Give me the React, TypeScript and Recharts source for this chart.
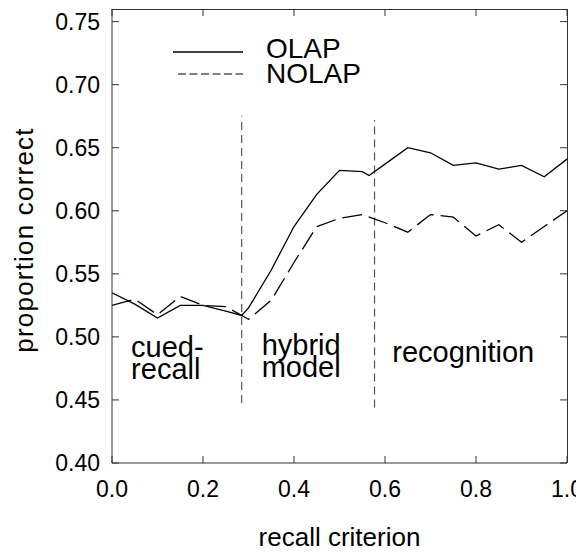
import React from 'react';
import { LineChart, Line, XAxis, YAxis, ReferenceLine, ReferenceDot, Legend } from 'recharts';

// ---- data ----
const xTicks = [0, 0.2, 0.4, 0.6, 0.8, 1.0];
const yTicks = [0.4, 0.45, 0.5, 0.55, 0.6, 0.65, 0.7, 0.75];
const xMin = 0;
const xMax = 1.0;
const yMin = 0.4;
const yMax = 0.76;

const olapX = [0, 0.05, 0.1, 0.15, 0.2, 0.25, 0.285, 0.3, 0.35, 0.4, 0.45, 0.5, 0.55, 0.565, 0.6, 0.65, 0.7, 0.75, 0.8, 0.85, 0.9, 0.95, 1.0];
const olapY = [0.535, 0.526, 0.515, 0.525, 0.525, 0.5205, 0.517, 0.523, 0.553, 0.5875, 0.613, 0.632, 0.631, 0.628, 0.637, 0.65, 0.646, 0.636, 0.638, 0.633, 0.636, 0.627, 0.641];

const nolapX = [0, 0.05, 0.1, 0.15, 0.2, 0.25, 0.3, 0.35, 0.4, 0.45, 0.5, 0.55, 0.6, 0.65, 0.7, 0.75, 0.8, 0.85, 0.9, 0.95, 1.0];
const nolapY = [0.525, 0.530, 0.5175, 0.532, 0.525, 0.524, 0.514, 0.529, 0.559, 0.5875, 0.594, 0.597, 0.5905, 0.583, 0.597, 0.595, 0.580, 0.589, 0.575, 0.5875, 0.600];

const seriesNames = ['OLAP', 'NOLAP'];

const boundaryX = [0.285, 0.577];
const boundaryLow = [0.4476, 0.444];
const boundaryHigh = [0.675, 0.672];

const regionText = [['cued-', 'recall'], ['hybrid', 'model'], ['recognition']];
const regionX = [0.042, 0.329, 0.616];
const regionY = [0.4841, 0.4857, 0.48];

const olapData = olapX.map((x, i) => ({ x, y: olapY[i] }));
const nolapData = nolapX.map((x, i) => ({ x, y: nolapY[i] }));

// ---- layout / style ----
const FONT = '"Liberation Sans", Arial, Helvetica, sans-serif';
const FRAME = '#333';
const TICK_LEN = 7;
const CHART_W = 576;
const CHART_H = 544;
const Y_AXIS_W = 104;
const X_AXIS_H = 89;
const MARGIN = { top: 1, right: 17, left: 0, bottom: 0 };
const PLOT_TOP = MARGIN.top;
const PLOT_RIGHT = CHART_W - MARGIN.right;
const PLOT_LEFT = MARGIN.left + Y_AXIS_W;
const PLOT_BOTTOM = CHART_H - MARGIN.bottom - X_AXIS_H;

const LegendContent = () => (
  <svg width={240} height={70} style={{ display: 'block', fontFamily: FONT }}>
    <line x1={13} x2={83} y1={22} y2={22} stroke="#000" strokeWidth={1.3} />
    <line x1={18} x2={83} y1={44} y2={44} stroke="#555" strokeWidth={1.3} strokeDasharray="8 3.5" />
    <text x={106} y={28} fontSize={28} fill="#000">{seriesNames[0]}</text>
    <text x={106} y={53} fontSize={28} fill="#000">{seriesNames[1]}</text>
  </svg>
);

const makeRegionShape = (lines: string[]) => (props: any) => (
  <text x={props.cx} y={props.cy} fontSize={29} fill="#000" fontFamily={FONT}>
    {lines.map((l, i) => (
      <tspan key={i} x={props.cx} dy={i === 0 ? 0 : 22}>{l}</tspan>
    ))}
  </text>
);

// bottom tick label + mirrored inward tick on the top border
const XTick = (props: any) => {
  const { x, y, payload } = props;
  return (
    <g>
      <text x={x} y={y} dy="0.71em" textAnchor="middle" fontSize={23} fill="#000" fontFamily={FONT}>
        {Number(payload.value).toFixed(1)}
      </text>
      <line x1={x} x2={x} y1={PLOT_TOP} y2={PLOT_TOP + TICK_LEN} stroke={FRAME} strokeWidth={1} />
    </g>
  );
};

// left tick label + mirrored inward tick on the right border
const YTick = (props: any) => {
  const { x, y, payload } = props;
  return (
    <g>
      <text x={x} y={y} dy="0.355em" textAnchor="end" fontSize={23} fill="#000" fontFamily={FONT}>
        {Number(payload.value).toFixed(2)}
      </text>
      <line x1={PLOT_RIGHT - TICK_LEN} x2={PLOT_RIGHT} y1={y} y2={y} stroke={FRAME} strokeWidth={1} />
    </g>
  );
};

export default function App() {
  return (
    <div style={{ fontFamily: FONT, width: CHART_W, height: CHART_H, position: 'relative' }}>
      <LineChart width={CHART_W} height={CHART_H} margin={MARGIN}>
        <XAxis
          xAxisId="x"
          dataKey="x"
          type="number"
          domain={[xMin, xMax]}
          allowDataOverflow
          ticks={xTicks}
          tickSize={-TICK_LEN}
          tickMargin={25}
          tickLine={{ stroke: FRAME }}
          axisLine={{ stroke: FRAME }}
          tick={<XTick />}
          height={X_AXIS_H}
          label={{ value: 'recall criterion', position: 'insideBottom', offset: 6, style: { fontSize: 26, fill: '#000', textAnchor: 'middle' } }}
        />
        <YAxis
          yAxisId="y"
          type="number"
          domain={[yMin, yMax]}
          allowDataOverflow
          ticks={yTicks}
          tickSize={-TICK_LEN}
          tickMargin={19}
          tickLine={{ stroke: FRAME }}
          axisLine={{ stroke: FRAME }}
          tick={<YTick />}
          width={Y_AXIS_W}
          label={{ value: 'proportion correct', angle: -90, position: 'insideLeft', offset: 16, dy: 4, style: { fontSize: 26, letterSpacing: 1.2, fill: '#000', textAnchor: 'middle' } }}
        />
        <Legend
          layout="horizontal"
          verticalAlign="middle"
          align="center"
          wrapperStyle={{ left: 152, top: 22, width: 240, height: 70 }}
          content={LegendContent}
        />
        {boundaryX.map((bx, i) => (
          <ReferenceLine
            key={'b' + i}
            xAxisId="x"
            yAxisId="y"
            segment={[{ x: bx, y: boundaryLow[i] }, { x: bx, y: boundaryHigh[i] }]}
            stroke="#555"
            strokeWidth={1.2}
            strokeDasharray="8 5"
          />
        ))}
        {regionText.map((lines, i) => (
          <ReferenceDot
            key={'r' + i}
            xAxisId="x"
            yAxisId="y"
            x={regionX[i]}
            y={regionY[i]}
            r={0}
            shape={makeRegionShape(lines)}
          />
        ))}
        <Line
          data={olapData}
          xAxisId="x"
          yAxisId="y"
          dataKey="y"
          name={seriesNames[0]}
          stroke="#000"
          strokeWidth={1.3}
          dot={false}
          isAnimationActive={false}
        />
        <Line
          data={nolapData}
          xAxisId="x"
          yAxisId="y"
          dataKey="y"
          name={seriesNames[1]}
          stroke="#000"
          strokeWidth={1.3}
          strokeDasharray="20 7"
          dot={false}
          isAnimationActive={false}
        />
      </LineChart>
      {/* top and right borders of the plot frame */}
      <div
        style={{
          position: 'absolute',
          left: PLOT_LEFT,
          top: PLOT_TOP - 0.5,
          width: PLOT_RIGHT - PLOT_LEFT + 0.5,
          height: PLOT_BOTTOM - PLOT_TOP + 0.5,
          borderTop: `1px solid ${FRAME}`,
          borderRight: `1px solid ${FRAME}`,
          boxSizing: 'border-box',
          pointerEvents: 'none',
        }}
      />
    </div>
  );
}
